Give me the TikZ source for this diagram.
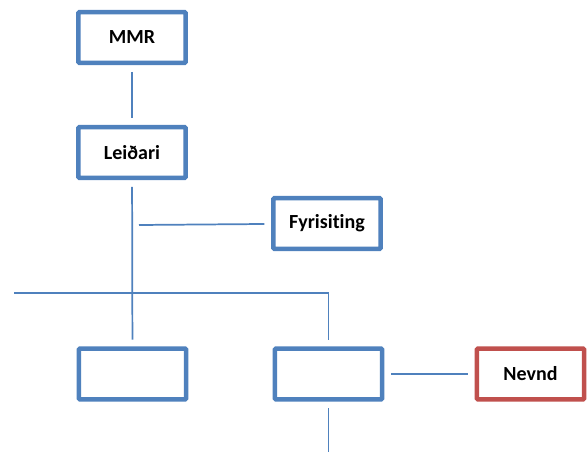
\documentclass[tikz,border=0pt]{standalone}
\usepackage{fontspec}
\setmainfont{Carlito}[Ligatures=NoCommon]
\usetikzlibrary{shapes,arrows}
\definecolor{boxblue}{RGB}{79,129,189}
\definecolor{boxred}{RGB}{192,80,77}
\tikzstyle{block} = [draw=boxblue, fill=white, rectangle, line width=3.4pt,
    rounded corners=0.8pt, minimum width=80.5pt, minimum height=38pt,
    inner sep=0pt, font=\fontsize{15}{18}\selectfont\bfseries]
\tikzstyle{redblock} = [block, draw=boxred]
\tikzstyle{conn} = [draw=boxblue, line width=1.3pt, shorten <=5pt, shorten >=5pt]
\begin{document}
\begin{tikzpicture}[x=0.75pt, y=-0.75pt]
\useasboundingbox (0,0) rectangle (587,452);

\node[block, name=mmr] at (132,37.5) {MMR};
\node[block, name=lei] at (132,152.5) {Leiðari};
\node[block, name=fyr] at (327,223.5) {Fyrisiting};
\node[block, name=bl] at (132.5,374) {};
\node[block, name=br] at (328.5,374) {};
\node[redblock, name=nev] at (530.5,374) {Nevnd};

\coordinate (fyb) at (139,225);
\coordinate (hl) at (14,293);
\coordinate (bot) at (328.5,458);

\draw[conn] (mmr) -- (lei);
\draw[conn] (lei) -- (bl);
\draw[conn, shorten <=0pt] (fyb) -- (fyr);
\draw[conn, shorten <=0pt] (hl) -| (br);
\draw[conn] (br) -- (nev);
\draw[conn, shorten >=0pt] (br) -- (bot);
\end{tikzpicture}
\end{document}
